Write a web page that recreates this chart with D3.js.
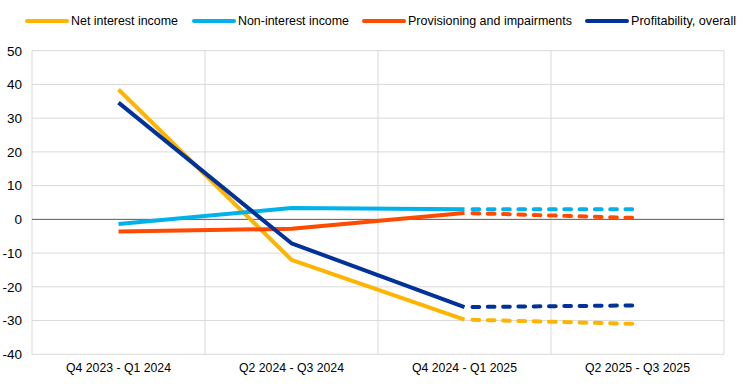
<!DOCTYPE html>
<html><head><meta charset="utf-8">
<script src="https://cdn.jsdelivr.net/npm/d3@7"></script>
<style>body{margin:0;background:#fff}svg{display:block;font-family:"Liberation Sans",Arial,sans-serif}</style>
</head><body><svg id="c" width="744" height="390"></svg>
<script>
const categories = ["Q4 2023 - Q1 2024","Q2 2024 - Q3 2024","Q4 2024 - Q1 2025","Q2 2025 - Q3 2025"];
const seriesNames = ["Net interest income","Non-interest income","Provisioning and impairments","Profitability, overall"];
const netInterest = [38.5, -12, -29.7, -31];
const nonInterest = [-1.4, 3.4, 3.0, 3.0];
const provisioning = [-3.6, -2.8, 1.9, 0.4];
const profitability = [34.6, -7.1, -26, -25.5];
const yTicks = [-40,-30,-20,-10,0,10,20,30,40,50];
const colors = ["#FFB400","#00B1EA","#FF4B00","#003299"];

const svg = d3.select("#c");
const x = d3.scaleBand().domain(categories).range([32,724]);
const y = d3.scaleLinear().domain([-40,50]).range([354.3,50.7]);

// gridlines
svg.append("g").selectAll("line").data(yTicks.filter(d=>d!==0)).join("line")
  .attr("x1",32).attr("x2",724).attr("y1",d=>y(d)).attr("y2",d=>y(d))
  .attr("stroke","#d9d9d9").attr("stroke-width",1);
const xb = [...categories.map(c=>x(c)), x(categories[3])+x.bandwidth()];
svg.append("g").selectAll("line").data(xb).join("line")
  .attr("x1",d=>d).attr("x2",d=>d).attr("y1",y(50)).attr("y2",y(-40))
  .attr("stroke","#d9d9d9").attr("stroke-width",1);
svg.append("line").attr("x1",32).attr("x2",724).attr("y1",y(0)).attr("y2",y(0))
  .attr("stroke","#595959").attr("stroke-width",1);

// y labels
const yAxis = d3.axisLeft(y).tickValues(yTicks).tickSize(0).tickPadding(6).tickFormat(d=>String(d));
const ga = svg.append("g").attr("transform","translate(32,0)").call(yAxis);
ga.select(".domain").remove();
ga.selectAll("text").attr("font-size",13.5).attr("fill","#000").attr("font-family","Liberation Sans, Arial, sans-serif").attr("x",-10);

// x labels
const xAxis = d3.axisBottom(x).tickSize(0).tickPadding(8);
const gx = svg.append("g").attr("transform",`translate(0,${y(-40)})`).call(xAxis);
gx.select(".domain").remove();
gx.selectAll("text").attr("font-size",13).attr("fill","#000").attr("font-family","Liberation Sans, Arial, sans-serif")
  .attr("textLength",105).attr("lengthAdjust","spacingAndGlyphs");

const allSeries = [netInterest, nonInterest, provisioning, profitability];
const cx = c => x(c) + x.bandwidth()/2;
const line = d3.line().x(d=>cx(d.c)).y(d=>y(d.v));
allSeries.forEach((s,i)=>{
  const pts = s.map((v,j)=>({c:categories[j], v}));
  svg.append("path").attr("d", line(pts.slice(0,3))).attr("fill","none")
    .attr("stroke",colors[i]).attr("stroke-width",4).attr("stroke-linejoin","round");
  svg.append("path").attr("d", line(pts.slice(2,4))).attr("fill","none")
    .attr("stroke",colors[i]).attr("stroke-width",4).attr("stroke-linecap","round")
    .attr("stroke-dasharray","6.7,8.6").attr("stroke-dashoffset",-8);
});

// legend
const legX = [26, 193, 363, 586];
const legW = [107, 111, 164, 105];
const lg = svg.append("g");
seriesNames.forEach((n,i)=>{
  lg.append("line").attr("x1",legX[i]+1).attr("x2",legX[i]+41).attr("y1",21).attr("y2",21)
    .attr("stroke",colors[i]).attr("stroke-width",4).attr("stroke-linecap","round");
  lg.append("text").attr("x",legX[i]+45).attr("y",24.5).attr("font-size",13).attr("fill","#000")
    .attr("textLength",legW[i]).attr("lengthAdjust","spacingAndGlyphs").text(n);
});
</script></body></html>
